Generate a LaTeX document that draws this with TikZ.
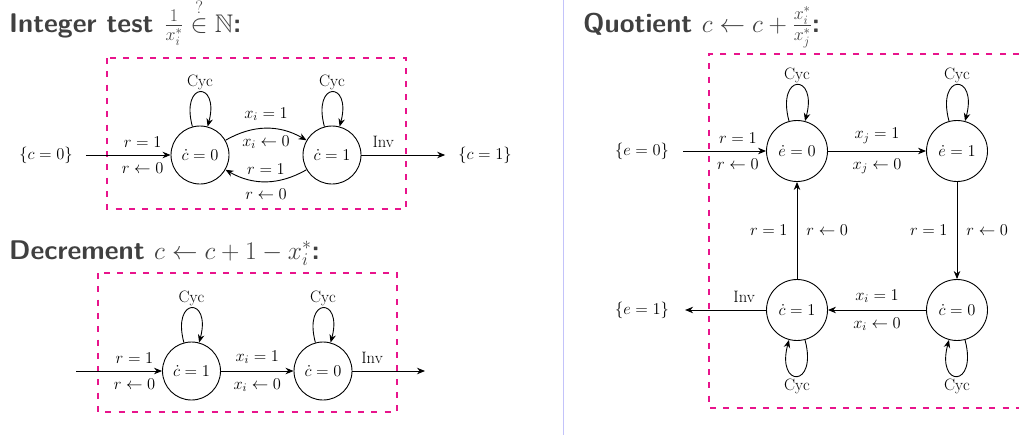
\RequirePackage{fix-cm}
\documentclass[tikz,border=0pt]{standalone}
\usepackage{amsmath,amssymb}
\usetikzlibrary{arrows.meta}
\definecolor{boxpink}{RGB}{232,20,140}
\definecolor{sepline}{RGB}{195,195,250}
\definecolor{titlegray}{RGB}{64,64,64}
\newcommand\lblfont{\fontsize{16.5}{20}\selectfont}
\newcommand\ttlfont{\fontsize{27}{33}\selectfont\sffamily\bfseries}
\newcommand\ttlmath[1]{{\fontsize{25.5}{31}\selectfont$#1$}}
\tikzset{
  stnode/.style={draw, circle, minimum size=58pt, inner sep=0pt, line width=0.9pt, font=\lblfont},
  stq/.style={stnode, minimum size=61pt},
  ext/.style={inner ysep=2pt, inner xsep=13pt, font=\lblfont},
  arr/.style={-{Stealth[length=8pt,width=6.5pt]}, line width=0.9pt},
  dbox/.style={draw=boxpink, line width=1.8pt, dash pattern=on 6pt off 7.3pt},
  lab/.style={font=\lblfont, inner sep=2pt},
  la/.style={lab, above=5pt},
  lb/.style={lab, below=5pt},
  ll/.style={lab, left=7pt},
  lr/.style={lab, right=7pt},
  ttl/.style={anchor=base west, inner sep=0pt, font=\ttlfont, text=titlegray},
}
\begin{document}
\begin{tikzpicture}[x=1pt,y=-1pt]
\useasboundingbox (0,0) rectangle (1019,439);
% separator
\draw[sepline, line width=1.5pt] (563.5,0) -- (563.5,435);

% ---------- Integer test ----------
\node[ttl] (t1) at (9,32) {Integer test\hspace{0.4em}\ttlmath{\frac{1}{x_i^*}\overset{?}{\in}\mathbb{N}}:};
\draw[dbox] (107,58) rectangle (406,209);
\node[stnode] (A0) at (200,155) {$\dot c=0$};
\node[stnode] (A1) at (332,155) {$\dot c=1$};
\node[ext] (C0) at (46,155) {$\{c=0\}$};
\node[ext] (C1) at (485,155) {$\{c=1\}$};
\draw[arr] (C0) -- node[la,pos=.67]{$r=1$} node[lb,pos=.67]{$r\leftarrow 0$} (A0);
\draw[arr] (A0) to[bend left=30] node[la]{$x_i=1$} node[lb]{$x_i\leftarrow 0$} (A1);
\draw[arr] (A1) to[bend left=30] node[la]{$r=1$} node[lb]{$r\leftarrow 0$} (A0);
\draw[arr] (A1) -- node[la,pos=.26]{Inv} (C1);
\draw[arr] (A0) to[loop above] node[lab,above]{Cyc} (A0);
\draw[arr] (A1) to[loop above] node[lab,above]{Cyc} (A1);

% ---------- Decrement ----------
\node[ttl] (t2) at (9,259) {Decrement\hspace{0.35em}\ttlmath{c\leftarrow c+1-x_i^*}:};
\draw[dbox] (98,273) rectangle (397,412);
\node[stnode] (B0) at (191.5,371) {$\dot c=1$};
\node[stnode] (B1) at (323,371) {$\dot c=0$};
\coordinate (Bin) at (76,371);
\coordinate (Bout) at (425,371);
\draw[arr] (Bin) -- node[la,pos=.68]{$r=1$} node[lb,pos=.68]{$r\leftarrow 0$} (B0);
\draw[arr] (B0) -- node[la]{$x_i=1$} node[lb]{$x_i\leftarrow 0$} (B1);
\draw[arr] (B1) -- node[la,pos=.27]{Inv} (Bout);
\draw[arr] (B0) to[loop above] node[lab,above]{Cyc} (B0);
\draw[arr] (B1) to[loop above] node[lab,above]{Cyc} (B1);

% ---------- Quotient ----------
\node[ttl] (t3) at (583,32) {Quotient\hspace{0.35em}\ttlmath{c\leftarrow c+\frac{x_i^*}{x_j^*}}:};
\draw[dbox] (1019,54) -- (709,54) -- (709,408) -- (1019,408);
\node[stq] (Q0) at (797,151) {$\dot e=0$};
\node[stq] (Q1) at (957,151) {$\dot e=1$};
\node[stq] (Q2) at (957,310) {$\dot c=0$};
\node[stq] (Q3) at (797,310) {$\dot c=1$};
\node[ext, inner xsep=14pt] (E0) at (642,151) {$\{e=0\}$};
\node[ext, inner xsep=16pt] (E1) at (642,310) {$\{e=1\}$};
\draw[arr] (E0) -- node[la,pos=.66]{$r=1$} node[lb,pos=.66]{$r\leftarrow 0$} (Q0);
\draw[arr] (Q0) -- node[la]{$x_j=1$} node[lb]{$x_j\leftarrow 0$} (Q1);
\draw[arr] (Q1) -- node[ll]{$r=1$} node[lr]{$r\leftarrow 0$} (Q2);
\draw[arr] (Q2) -- node[la]{$x_i=1$} node[lb]{$x_i\leftarrow 0$} (Q3);
\draw[arr] (Q3) -- node[ll]{$r=1$} node[lr]{$r\leftarrow 0$} (Q0);
\draw[arr] (Q3) -- node[la,pos=.27]{Inv} (E1);
\draw[arr] (Q0) to[loop above] node[lab,above]{Cyc} (Q0);
\draw[arr] (Q1) to[loop above] node[lab,above]{Cyc} (Q1);
\draw[arr] (Q2) to[loop below] node[lab,below]{Cyc} (Q2);
\draw[arr] (Q3) to[loop below] node[lab,below]{Cyc} (Q3);
\end{tikzpicture}
\end{document}
